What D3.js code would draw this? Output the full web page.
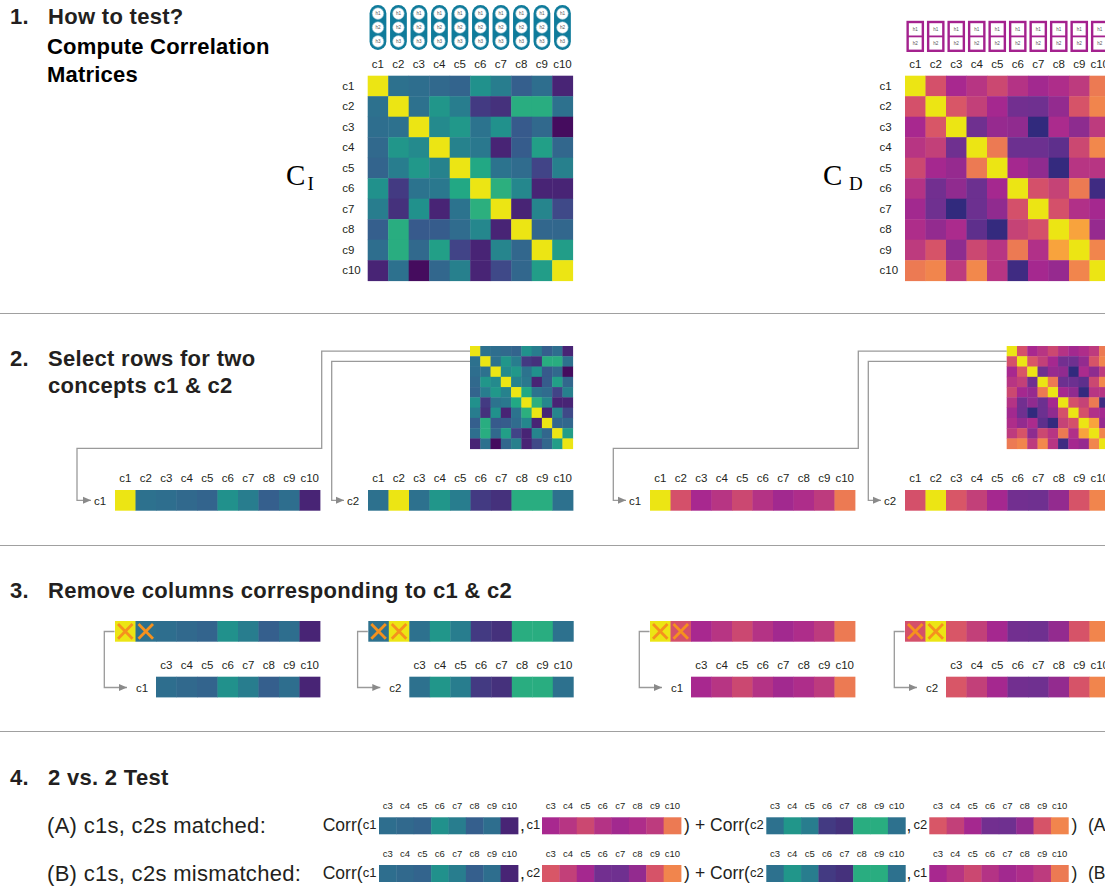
<!DOCTYPE html>
<html>
<head>
<meta charset="utf-8">
<script src="https://cdn.jsdelivr.net/npm/d3@7"></script>
<style>
  html, body { margin: 0; padding: 0; background: #fff; }
  svg { display: block; font-family: "Liberation Sans", Arial, Helvetica, sans-serif; }
</style>
</head>
<body>
<svg id="fig" width="1105" height="888"></svg>
<script>
// ---- data -------------------------------------------------------------
const concepts = ["c1", "c2", "c3", "c4", "c5", "c6", "c7", "c8", "c9", "c10"];

// correlation matrix of the image-derived representations (C_I)
const corrI = [
  [1.00, 0.37, 0.36, 0.34, 0.32, 0.50, 0.42, 0.30, 0.36, 0.10],
  [0.37, 1.00, 0.37, 0.52, 0.42, 0.17, 0.14, 0.62, 0.62, 0.37],
  [0.36, 0.37, 1.00, 0.47, 0.53, 0.38, 0.50, 0.28, 0.34, 0.03],
  [0.34, 0.52, 0.47, 1.00, 0.44, 0.40, 0.10, 0.29, 0.56, 0.33],
  [0.32, 0.42, 0.53, 0.44, 1.00, 0.60, 0.38, 0.35, 0.20, 0.43],
  [0.50, 0.17, 0.38, 0.40, 0.60, 1.00, 0.63, 0.46, 0.10, 0.10],
  [0.42, 0.14, 0.50, 0.10, 0.38, 0.63, 1.00, 0.10, 0.45, 0.22],
  [0.30, 0.62, 0.28, 0.29, 0.35, 0.46, 0.10, 1.00, 0.33, 0.33],
  [0.36, 0.62, 0.34, 0.56, 0.20, 0.10, 0.45, 0.33, 1.00, 0.55],
  [0.10, 0.37, 0.03, 0.33, 0.43, 0.10, 0.22, 0.33, 0.55, 1.00]
];

// correlation matrix of the second representation (C_D)
const corrD = [
  [1.00, 0.55, 0.40, 0.45, 0.52, 0.44, 0.38, 0.42, 0.47, 0.68],
  [0.55, 1.00, 0.57, 0.49, 0.39, 0.22, 0.21, 0.33, 0.56, 0.72],
  [0.40, 0.57, 1.00, 0.21, 0.34, 0.32, 0.03, 0.41, 0.31, 0.47],
  [0.45, 0.49, 0.21, 1.00, 0.68, 0.20, 0.20, 0.16, 0.52, 0.73],
  [0.52, 0.39, 0.34, 0.68, 1.00, 0.39, 0.32, 0.04, 0.45, 0.45],
  [0.44, 0.22, 0.32, 0.20, 0.39, 1.00, 0.55, 0.50, 0.68, 0.07],
  [0.38, 0.21, 0.03, 0.20, 0.32, 0.55, 1.00, 0.55, 0.43, 0.39],
  [0.42, 0.33, 0.41, 0.16, 0.04, 0.50, 0.55, 1.00, 0.83, 0.34],
  [0.47, 0.56, 0.31, 0.52, 0.45, 0.68, 0.43, 0.83, 1.00, 0.72],
  [0.68, 0.72, 0.47, 0.73, 0.45, 0.07, 0.39, 0.34, 0.72, 1.00]
];

const unitsI = ["h1", "h2", "h3"];   // units per concept, first representation
const unitsD = ["h1", "h2"];         // units per concept, second representation
const pair = ["c1", "c2"];           // the two concepts under test
const kept = concepts.filter(c => !pair.includes(c));

const headings = [
  { num: "1.", lines: ["How to test?"] },
  { num: "2.", lines: ["Select rows for two", "concepts c1 & c2"] },
  { num: "3.", lines: ["Remove columns corresponding to c1 & c2"] },
  { num: "4.", lines: ["2 vs. 2 Test"] }
];
const subHeading = ["Compute Correlation", "Matrices"];
const testRows = [
  { label: "(A) c1s, c2s matched:", terms: [["c1", "c1"], ["c2", "c2"]], tag: "(A)" },
  { label: "(B) c1s, c2s mismatched:", terms: [["c1", "c2"], ["c2", "c1"]], tag: "(B)" }
];

// ---- colour scales ----------------------------------------------------
const viridisStops = d3.quantize(d3.interpolateViridis, 11);
viridisStops[10] = "#ece514";
const colorI = d3.scaleLinear()
  .domain(d3.range(11).map(i => i / 10))
  .range(viridisStops)
  .interpolate(d3.interpolateRgb)
  .clamp(true);

const colorD = d3.scaleLinear()
  .domain([0, 0.2, 0.4, 0.55, 0.7, 0.85, 1])
  .range(["#26297a", "#6c3090", "#a8288f", "#d4506a", "#f08050", "#f9a83a", "#ece514"])
  .interpolate(d3.interpolateRgb)
  .clamp(true);

const rowOf = (m, name) => m[concepts.indexOf(name)];
const pick = (m, name, cols) => cols.map(c => rowOf(m, name)[concepts.indexOf(c)]);

// ---- drawing helpers --------------------------------------------------
const svg = d3.select("#fig");
svg.append("rect").attr("width", 1105).attr("height", 888).attr("fill", "#fff");

const defs = svg.append("defs");
defs.append("marker")
  .attr("id", "tip").attr("markerUnits", "userSpaceOnUse")
  .attr("markerWidth", 9).attr("markerHeight", 8)
  .attr("refX", 8).attr("refY", 4).attr("orient", "auto")
  .append("path").attr("d", "M0,0.5 L8,4 L0,7.5 Z").attr("fill", "#8a8a8a");

const ink = "#231f20";

// one row of coloured cells laid out by a band scale
function heatRow(g, values, cols, x0, y0, w, h, color) {
  const x = d3.scaleBand().domain(cols).range([x0, x0 + w]);
  g.selectAll(null)
    .data(cols.map((c, i) => ({ c, v: values[i] })))
    .join("rect")
    .attr("x", d => x(d.c)).attr("y", y0)
    .attr("width", x.bandwidth() + 0.4).attr("height", h)
    .attr("fill", d => color(d.v));
  return x;
}

function colLabels(g, x, y, size) {
  g.selectAll(null).data(x.domain()).join("text")
    .attr("x", d => x(d) + x.bandwidth() / 2).attr("y", y)
    .attr("text-anchor", "middle").attr("font-size", size).attr("fill", ink)
    .text(d => d);
}

function matrix(g, m, x0, y0, size, color) {
  const y = d3.scaleBand().domain(concepts).range([y0, y0 + size]);
  let x;
  concepts.forEach((r, i) => {
    x = heatRow(g, m[i], concepts, x0, y(r), size, y.bandwidth() + 0.4, color);
  });
  return { x, y };
}

function arrowPath(g, pts) {
  g.append("path")
    .attr("d", d3.line()(pts))
    .attr("fill", "none").attr("stroke", "#9a9a9a").attr("stroke-width", 1.3)
    .attr("marker-end", "url(#tip)");
}

function smallText(g, x, y, txt, size, anchor) {
  g.append("text").attr("x", x).attr("y", y).attr("font-size", size)
    .attr("text-anchor", anchor || "start").attr("fill", ink).text(txt);
}

// ---- headings and dividers -------------------------------------------
const headY = [[24], [366, 393], [598], [785]];
headings.forEach((h, i) => {
  const g = svg.append("g").attr("font-weight", "bold").attr("font-size", 22)
    .attr("letter-spacing", 0.3).attr("fill", ink);
  g.append("text").attr("x", 10).attr("y", headY[i][0]).text(h.num);
  h.lines.forEach((l, j) => g.append("text").attr("x", 48).attr("y", headY[i][j]).text(l));
});
subHeading.forEach((l, j) => svg.append("text").attr("x", 47).attr("y", 54 + j * 28)
  .attr("font-weight", "bold").attr("font-size", 22).attr("letter-spacing", 0.2)
  .attr("fill", "#000").text(l));

[313, 545, 731].forEach(y => svg.append("line")
  .attr("x1", 0).attr("x2", 1105).attr("y1", y + 0.5).attr("y2", y + 0.5)
  .attr("stroke", "#a0a0a0").attr("stroke-width", 1));

// ---- section 1: full correlation matrices ----------------------------
const S = 205;            // matrix side
const mats = [
  { m: corrI, color: colorI, x0: 367.7, name: "I", units: unitsI },
  { m: corrD, color: colorD, x0: 905, name: "D", units: unitsD }
];

mats.forEach(M => {
  const g = svg.append("g");
  const { x, y } = matrix(g, M.m, M.x0, 75.7, S, M.color);
  colLabels(g, x, 68, 11.5);
  g.selectAll(null).data(concepts).join("text")
    .attr("x", M.x0 - 25.5).attr("y", d => y(d) + y.bandwidth() / 2 + 4)
    .attr("font-size", 11.5).attr("fill", ink).text(d => d);

  // unit icons above each column
  const icons = g.selectAll(null).data(concepts).join("g")
    .attr("transform", d => `translate(${x(d) + x.bandwidth() / 2},0)`);
  if (M.name === "I") {
    icons.append("rect").attr("x", -8.4).attr("y", 5).attr("width", 16.8).attr("height", 45)
      .attr("rx", 8.4).attr("fill", "#0f7b9b");
    M.units.forEach((u, k) => {
      const cy = 13.6 + k * 13.9;
      icons.append("circle").attr("cx", 0).attr("cy", cy).attr("r", 5.8)
        .attr("fill", "#fff").attr("stroke", "#7fb6c8").attr("stroke-width", 0.6);
      icons.append("text").attr("x", 0).attr("y", cy + 1.6).attr("text-anchor", "middle")
        .attr("font-size", 4.6).attr("fill", "#555").text(u);
    });
  } else {
    icons.append("rect").attr("x", -7.6).attr("y", 22).attr("width", 15.2).attr("height", 28.8)
      .attr("fill", "#fff").attr("stroke", "#a4218e").attr("stroke-width", 2.4);
    icons.append("line").attr("x1", -7.6).attr("x2", 7.6).attr("y1", 36.4).attr("y2", 36.4)
      .attr("stroke", "#a4218e").attr("stroke-width", 1.8);
    M.units.forEach((u, k) => {
      icons.append("text").attr("x", 0).attr("y", 30.5 + k * 14.3).attr("text-anchor", "middle")
        .attr("font-size", 4.6).attr("fill", "#555").text(u);
    });
  }
});

// matrix names
function matName(x, sub, subDx) {
  svg.append("text").attr("x", x).attr("y", 185).attr("font-family", "'Liberation Serif', 'Times New Roman', serif")
    .attr("font-size", 29).attr("fill", "#000").text("C");
  svg.append("text").attr("x", x + subDx).attr("y", 189.5).attr("font-family", "'Liberation Serif', 'Times New Roman', serif")
    .attr("font-size", 19).attr("fill", "#000").text(sub);
}
matName(286, "I", 21.5);
matName(823, "D", 26);

// ---- section 2: selecting two rows -----------------------------------
const small = 102.7, smallY = 346;
const rowStripY = 490, cellW = 20.5;
const sec2 = [
  { M: mats[0], mx: 470, strips: [{ c: "c1", x0: 115, turnX: 321.7, lowY: 448.3, lowX: 77 },
                                   { c: "c2", x0: 368, turnX: 331.7 }] },
  { M: mats[1], mx: 1006.7, strips: [{ c: "c1", x0: 650, turnX: 858.3, lowY: 448.3, lowX: 613.3 },
                                     { c: "c2", x0: 905, turnX: 868.3 }] }
];
sec2.forEach(s => {
  const g = svg.append("g");
  const { y } = matrix(g, s.M.m, s.mx, smallY, small, s.M.color);
  s.strips.forEach(st => {
    const x = heatRow(g, rowOf(s.M.m, st.c), concepts, st.x0, rowStripY, cellW * 10, 20.7, s.M.color);
    colLabels(g, x, 482, 11.5);
    const labX = st.x0 - 21;
    smallText(g, labX, rowStripY + 14.5, st.c, 11.5);
    const ry = y(st.c) + y.bandwidth() / 2;
    const ay = rowStripY + 10.3;
    const pts = st.lowY
      ? [[s.mx, ry], [st.turnX, ry], [st.turnX, st.lowY], [st.lowX, st.lowY], [st.lowX, ay], [labX - 3, ay]]
      : [[s.mx, ry], [st.turnX, ry], [st.turnX, ay], [labX - 3, ay]];
    arrowPath(g, pts);
  });
});

// ---- section 3: removing the pair's columns ---------------------------
const topY = 621, botY = 676.7;
const sec3 = [
  { M: mats[0], c: "c1", x0: 115 }, { M: mats[0], c: "c2", x0: 368.3 },
  { M: mats[1], c: "c1", x0: 650 }, { M: mats[1], c: "c2", x0: 905 }
];
sec3.forEach(s => {
  const g = svg.append("g");
  const x = heatRow(g, rowOf(s.M.m, s.c), concepts, s.x0, topY, cellW * 10, 20.7, s.M.color);
  // crosses on the removed columns
  pair.forEach(p => {
    const cx = x(p), w = x.bandwidth();
    [[cx + 3, topY + 3, cx + w - 3, topY + 17.7], [cx + 3, topY + 17.7, cx + w - 3, topY + 3]].forEach(l =>
      g.append("line").attr("x1", l[0]).attr("y1", l[1]).attr("x2", l[2]).attr("y2", l[3])
        .attr("stroke", "#f5911e").attr("stroke-width", 2.8));
  });
  const bx0 = s.x0 + cellW * 2;
  const xb = heatRow(g, pick(s.M.m, s.c, kept), kept, bx0, botY, cellW * 8, 20.7, s.M.color);
  colLabels(g, xb, 669, 11.5);
  const bx = s.x0 - 10.7, ay = botY + 10.8;
  arrowPath(g, [[s.x0 - 0.5, topY + 10.5], [bx, topY + 10.5], [bx, ay], [s.x0 + 12, ay]]);
  smallText(g, s.x0 + 21, botY + 15, s.c, 11.5);
});

// ---- section 4: the 2 vs. 2 test --------------------------------------
const rowY = [817.3, 865];
const stripW = 139, stripH = 17;
testRows.forEach((r, i) => {
  const g = svg.append("g");
  const y0 = rowY[i], base = y0 + 13;
  g.append("text").attr("x", 47).attr("y", base + 3).attr("font-size", 22)
    .attr("letter-spacing", 0.3).attr("fill", ink).text(r.label);

  const xs = [[322.7, 362.7, 379, 520, 526.5, 542, 684], [695, 750, 766.3, 906.5, 913.5, 929.3, 1071.5]];
  r.terms.forEach((t, k) => {
    const p = xs[k];
    g.append("text").attr("x", p[0]).attr("y", base + 1).attr("font-size", 17.5).attr("fill", ink)
      .text(k === 0 ? "Corr(" : "+ Corr(");
    smallText(g, p[1], base - 1, t[0], 13);
    const xa = heatRow(g, pick(corrI, t[0], kept), kept, p[2], y0, stripW, stripH, colorI);
    colLabels(g, xa, y0 - 8, 9.5);
    g.append("text").attr("x", p[3]).attr("y", base + 1).attr("font-size", 17.5).attr("fill", ink).text(",");
    smallText(g, p[4], base - 1, t[1], 13);
    const xb = heatRow(g, pick(corrD, t[1], kept), kept, p[5], y0, stripW, stripH, colorD);
    colLabels(g, xb, y0 - 8, 9.5);
    g.append("text").attr("x", p[6]).attr("y", base + 1).attr("font-size", 17.5).attr("fill", ink).text(")");
  });
  g.append("text").attr("x", 1088).attr("y", base + 1).attr("font-size", 17.5).attr("fill", ink).text(r.tag);
});
</script>
</body>
</html>
